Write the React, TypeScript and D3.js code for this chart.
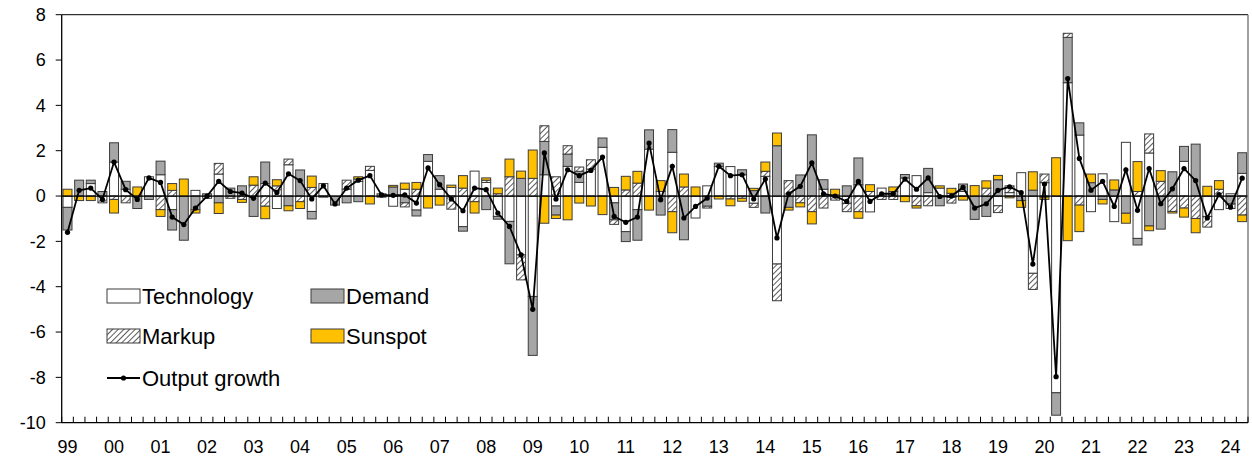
import React from "react";
import * as d3 from "d3";

// Year labels on the x axis (placed under the first quarter of each year)
const yearLabels = ["99","00","01","02","03","04","05","06","07","08","09","10","11","12","13","14","15","16","17","18","19","20","21","22","23","24"];
const quarterNames = ["Q1", "Q2", "Q3", "Q4"];
const lastQuarterCount = 102; // 1999Q1 .. 2024Q2

const yTicks = [8, 6, 4, 2, 0, -2, -4, -6, -8, -10];

// Historical decomposition of output growth (percentage points)
const technology = [
  -0.5, 0, 0.55, 0, 1.5, 0.3, 0, 0.85,
  0.94, -0.6, 0, 0.25, -0.1, 0.97, 0, 0,
  0, 0.55, -0.55, 1.38, 0, -0.68, 0.55, 0,
  0.3, 0.65, 1.13, -0.05, -0.45, 0.3, -0.62, 1.53,
  0.3, 0.38, -1.35, 1.1, 0.6, -0.9, -1.12, -2.6,
  -4.43, 0.94, -0.44, 1.31, 0.6, 1.19, 2.15, -0.3,
  -1.57, -0.6, 2.07, 0.2, 1.93, 0, -0.97, 0.45,
  1.3, 1.3, 0.94, -0.32, 0.87, -3.0, 0, 0,
  0, 0.3, 0.05, -0.32, 0.5, -0.7, 0.35, 0,
  0.8, 0.9, 0.15, 0.35, 0.12, 0.2, 0, 0,
  -0.43, 0.15, 1.03, -3.41, 0.59, -8.68, 5.0, 2.69,
  -0.69, 0.98, -1.13, 2.37, -1.87, 1.9, 0, 0,
  1.53, 0, -0.9, -0.6, 0.1, 1.0,
];
const demand = [
  -1.0, 0.7, 0.15, 0.2, 0.85, 0.35, -0.55, -0.15,
  0.6, -0.9, -1.95, -0.6, 0.1, -0.3, 0.35, 0.45,
  -0.9, 0.95, 0, -0.43, 1.15, -0.33, -0.05, -0.4,
  -0.3, -0.25, 0, 0.1, 0.4, -0.3, -0.26, 0.3,
  0.6, 0, -0.2, 0, -0.6, -0.12, -1.87, 0.78,
  -2.6, 1.47, -0.4, 0.54, 0.49, 0, 0.41, -0.75,
  -0.44, -1.35, 0.85, -0.84, 1.0, -1.93, 0, -0.45,
  0.15, 0, 0.22, 0.24, -0.75, 2.22, -0.5, 0.93,
  2.7, 0.42, 0, 0.45, 1.18, 0, 0, 0.2,
  0.15, 0, 1.07, -0.43, -0.06, 0.33, -1.03, -0.9,
  0.72, 0, -0.2, 0.26, -0.05, -0.99, 2.0, 0.54,
  0.59, -0.15, 0.27, -0.76, -0.29, -1.32, -1.46, 1.07,
  0.66, 2.29, 0, 0, -0.35, 0.91,
];
const markup = [
  0, 0, 0, -0.3, -0.15, -0.3, 0, 0,
  -0.6, 0.25, 0, 0, 0, 0.47, -0.1, -0.15,
  0.48, -0.45, 0.45, 0.25, -0.25, 0.38, 0, 0,
  0.4, 0.1, 0.18, 0, 0, -0.18, 0.3, 0,
  0, -0.58, 0.35, -0.25, 0.1, 0.1, 0.85, -1.1,
  0.78, 0.69, 0.85, 0.37, 0.19, 0.41, 0, -0.2,
  0.27, 0.57, 0, 0, -0.69, 0.4, 0, -0.08,
  0, -0.13, -0.1, -0.18, 0.22, -1.62, 0.68, -0.3,
  -0.69, -0.53, -0.18, -0.37, -0.69, 0.2, -0.15, -0.15,
  0, -0.43, -0.43, 0, -0.25, 0, 0, 0.35,
  -0.3, 0.3, 0, -0.71, 0.38, 0, 0.18, -0.4,
  0, 0, 0, 0, 0.2, 0.84, 0.65, -0.68,
  -0.53, -0.99, -0.47, 0.3, -0.2, -0.84,
];
const sunspot = [
  0.3, -0.2, -0.2, 0, -0.6, 0, 0.4, 0,
  -0.3, 0.3, 0.75, -0.15, 0, -0.47, 0, -0.13,
  0.37, -0.55, 0.27, -0.22, -0.3, 0.5, 0, 0,
  0, 0.1, -0.35, 0, 0.07, 0.27, 0.3, -0.53,
  -0.4, 0.1, 0.55, -0.5, 0.1, 0.25, 0.78, 0.32,
  1.25, -1.2, -0.15, -1.05, -0.31, -0.44, -0.82, 0.38,
  0.6, 0.52, -0.62, 0.48, -0.93, 0.57, 0.4, 0,
  -0.13, -0.3, -0.13, 0.1, 0.41, 0.56, -0.12, -0.18,
  -0.54, 0, 0.25, 0, -0.29, 0.3, 0, 0.2,
  -0.25, -0.1, 0, 0.1, 0.22, -0.18, 0.46, 0.32,
  0.19, -0.08, -0.3, 0.81, -0.1, 1.69, -1.97, -1.17,
  0.38, -0.2, 0.44, -0.44, 1.32, -0.21, 0.47, -0.07,
  -0.4, -0.63, 0.43, 0.38, 0, -0.29,
];
const outputGrowth = [
  -1.6, 0.25, 0.35, -0.15, 1.5, 0.28, -0.15, 0.8,
  0.6, -0.93, -1.26, -0.53, 0.0, 0.65, 0.2, 0.13,
  -0.1, 0.57, 0.16, 0.98, 0.68, -0.13, 0.45, -0.35,
  0.35, 0.7, 0.9, 0.05, 0.03, 0.05, -0.31, 1.24,
  0.5, -0.13, -0.65, 0.35, 0.28, -0.75, -1.34, -2.6,
  -5.0, 1.9, -0.13, 1.16, 0.9, 1.13, 1.72, -0.9,
  -1.16, -0.93, 2.34, -0.16, 1.31, -0.97, -0.46, -0.09,
  1.31, 0.9, 0.94, -0.13, 0.75, -1.85, 0.1, 0.43,
  1.46, 0.1, 0.0, -0.24, 0.65, -0.24, 0.1, 0.1,
  0.75, 0.3, 0.8, -0.02, 0.0, 0.38, -0.53, -0.34,
  0.25, 0.41, 0.15, -3.0, 0.53, -7.97, 5.18, 1.66,
  0.26, 0.65, -0.46, 1.16, -0.63, 1.21, -0.34, 0.32,
  1.21, 0.68, -0.97, 0.06, -0.49, 0.79,
];

const seriesKeys = ["technology", "demand", "markup", "sunspot"] as const;
const seriesLabels: Record<string, string> = {
  technology: "Technology",
  demand: "Demand",
  markup: "Markup",
  sunspot: "Sunspot",
};
const fills: Record<string, string> = {
  technology: "#ffffff",
  demand: "#a6a6a6",
  markup: "url(#hatch)",
  sunspot: "#ffc000",
};

const W = 1252;
const H = 461;
const plot = { left: 61.7, right: 1248, top: 14.7, bottom: 422.7 };
const FONT = "'Liberation Sans', Arial, sans-serif";
const LEGEND_FONT = 22;

export default function App() {
  const quarters: string[] = [];
  yearLabels.forEach((yy) => quarterNames.forEach((q) => quarters.push(`${yy}${q}`)));
  const cats = quarters.slice(0, lastQuarterCount);

  const rows = cats.map((q, i) => ({
    quarter: q,
    technology: technology[i],
    demand: demand[i],
    markup: markup[i],
    sunspot: sunspot[i],
  }));

  const x = d3
    .scaleBand<string>()
    .domain(cats)
    .range([plot.left, plot.right])
    .paddingInner(0.23)
    .paddingOuter(0.115);
  const y = d3.scaleLinear().domain([-10, 8]).range([plot.bottom, plot.top]);

  const stacked = d3
    .stack<any>()
    .keys(seriesKeys as unknown as string[])
    .offset(d3.stackOffsetDiverging)(rows);

  const step = x.step();
  const bw = x.bandwidth();
  const boundaries = d3.range(cats.length + 1).map((i) => plot.left + i * step);

  const line = d3
    .line<number>()
    .x((_, i) => (x(cats[i]) as number) + bw / 2)
    .y((d) => y(d));

  const legendItems = [
    { key: "technology", x: 107, y: 289 },
    { key: "demand", x: 311, y: 289 },
    { key: "markup", x: 107, y: 329 },
    { key: "sunspot", x: 311, y: 329 },
  ];

  return (
    <svg
      width={W}
      height={H}
      style={{ position: "absolute", left: 0, top: 0, background: "#fff" }}
      fontFamily={FONT}
    >
      <defs>
        <pattern id="hatch" patternUnits="userSpaceOnUse" width={4} height={4} patternTransform="rotate(45)">
          <rect width={4} height={4} fill="#fff" />
          <line x1={0} y1={0} x2={0} y2={4} stroke="#000" strokeWidth={1.3} />
        </pattern>
      </defs>
      <rect x={0} y={0} width={W} height={H} fill="#fff" />

      {/* stacked contributions */}
      <g>
        {stacked.map((layer) => (
          <g key={layer.key}>
            {layer.map((seg, i) => {
              const y0 = y(seg[0]);
              const y1 = y(seg[1]);
              const h = Math.abs(y0 - y1);
              if (h < 0.01) return null;
              return (
                <rect
                  key={i}
                  x={x(cats[i])}
                  y={Math.min(y0, y1)}
                  width={bw}
                  height={h}
                  fill={fills[layer.key]}
                  stroke="#3c3c3c"
                  strokeWidth={1}
                />
              );
            })}
          </g>
        ))}
      </g>

      {/* zero line */}
      <line x1={plot.left} x2={plot.right} y1={y(0)} y2={y(0)} stroke="#000" strokeWidth={1.3} />

      {/* output growth */}
      <path d={line(outputGrowth) || ""} fill="none" stroke="#000" strokeWidth={1.8} />
      {outputGrowth.map((v, i) => (
        <circle key={i} cx={(x(cats[i]) as number) + bw / 2} cy={y(v)} r={2.6} fill="#000" />
      ))}

      {/* frame */}
      <line x1={plot.left} x2={plot.right} y1={plot.top} y2={plot.top} stroke="#000" strokeWidth={1} />
      <line x1={plot.right} x2={plot.right} y1={plot.top} y2={plot.bottom} stroke="#7f7f7f" strokeWidth={1.5} />
      <line x1={plot.left} x2={plot.right} y1={plot.bottom} y2={plot.bottom} stroke="#000" strokeWidth={1.3} />
      <line x1={plot.left} x2={plot.left} y1={plot.top} y2={plot.bottom} stroke="#000" strokeWidth={1.3} />

      {/* y axis */}
      {yTicks.map((t) => (
        <g key={t}>
          <line x1={plot.left - 6} x2={plot.left} y1={y(t)} y2={y(t)} stroke="#000" strokeWidth={1} />
          <text x={plot.left - 16} y={y(t)} dy="0.35em" textAnchor="end" fontSize={18} fill="#000">
            {t}
          </text>
        </g>
      ))}

      {/* x axis ticks and year labels */}
      {boundaries.map((bx, i) => (
        <line key={i} x1={bx} x2={bx} y1={plot.bottom} y2={plot.bottom - 6} stroke="#000" strokeWidth={1} />
      ))}
      {yearLabels.map((yy) => {
        const q = `${yy}Q1`;
        if (x(q) === undefined) return null;
        return (
          <text key={yy} x={(x(q) as number) + bw / 2} y={453} textAnchor="middle" fontSize={18} fill="#000">
            {yy}
          </text>
        );
      })}

      {/* legend */}
      {legendItems.map((it) => (
        <g key={it.key}>
          <rect x={it.x} y={it.y} width={33} height={14} fill={fills[it.key]} stroke="#3c3c3c" strokeWidth={1} />
          <text x={it.x + 35} y={it.y + 7} dy="0.35em" fontSize={LEGEND_FONT} fill="#000">
            {seriesLabels[it.key]}
          </text>
        </g>
      ))}
      <g>
        <line x1={107} x2={140} y1={378} y2={378} stroke="#000" strokeWidth={1.8} />
        <circle cx={123.5} cy={378} r={2.6} fill="#000" />
        <text x={142} y={378} dy="0.35em" fontSize={LEGEND_FONT} fill="#000">
          Output growth
        </text>
      </g>
    </svg>
  );
}
